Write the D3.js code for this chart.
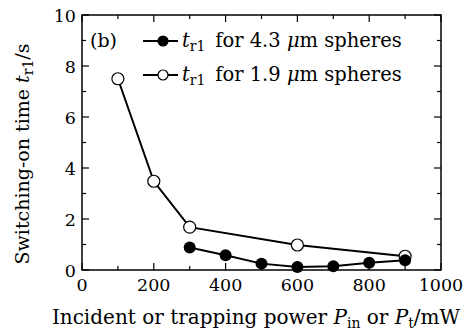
<!DOCTYPE html>
<html lang="en">
<head>
<meta charset="utf-8">
<title>Switching-on time</title>
<script src="https://cdn.jsdelivr.net/npm/d3@7"></script>
<style>
  body { margin: 0; background: #fff; }
</style>
</head>
<body>
<svg id="chart" width="470" height="331"></svg>
<script>
// power (mW) and switching-on time (s)
var bigPower = [300, 400, 500, 600, 700, 800, 900];
var bigTime = [0.88, 0.58, 0.25, 0.12, 0.15, 0.28, 0.38];
var smallPower = [100, 200, 300, 600, 900];
var smallTime = [7.5, 3.48, 1.68, 0.98, 0.54];
var xTicks = [0, 200, 400, 600, 800, 1000];
var yTicks = [0, 2, 4, 6, 8, 10];

var svg = d3.select("#chart");
var L = 82, R = 441, T = 15, B = 270;
var serif = "DejaVu Serif";

var x = d3.scaleLinear().domain([0, 1000]).range([L, R]);
var y = d3.scaleLinear().domain([0, 10]).range([B, T]);

// inward ticks on all sides
var xMinor = d3.range(0, 1001, 100);
var yMinor = d3.range(0, 11, 1);
var tickG = svg.append("g").attr("stroke", "#000").attr("stroke-width", 1.2);
xMinor.forEach(function (v) {
  var len = v % 200 === 0 ? 7 : 4;
  tickG.append("line").attr("x1", x(v)).attr("x2", x(v)).attr("y1", B).attr("y2", B - len);
  tickG.append("line").attr("x1", x(v)).attr("x2", x(v)).attr("y1", T).attr("y2", T + len);
});
yMinor.forEach(function (v) {
  var len = v % 2 === 0 ? 7 : 4;
  tickG.append("line").attr("y1", y(v)).attr("y2", y(v)).attr("x1", L).attr("x2", L + len);
  tickG.append("line").attr("y1", y(v)).attr("y2", y(v)).attr("x1", R).attr("x2", R - len);
});

svg.append("rect")
  .attr("x", L).attr("y", T).attr("width", R - L).attr("height", B - T)
  .attr("fill", "none").attr("stroke", "#000").attr("stroke-width", 1.5);

svg.selectAll("text.xt").data(xTicks).enter().append("text")
  .attr("class", "xt")
  .attr("x", function (d) { return x(d); })
  .attr("y", 291)
  .attr("text-anchor", "middle")
  .style("font-family", serif)
  .attr("font-size", 17.5)
  .text(function (d) { return d; });

svg.selectAll("text.yt").data(yTicks).enter().append("text")
  .attr("class", "yt")
  .attr("x", 76)
  .attr("y", function (d) { return y(d) + 7; })
  .attr("text-anchor", "end")
  .style("font-family", serif)
  .attr("font-size", 17.5)
  .text(function (d) { return d; });

var line = d3.line()
  .x(function (d) { return x(d[0]); })
  .y(function (d) { return y(d[1]); });

var bigData = d3.zip(bigPower, bigTime);
var smallData = d3.zip(smallPower, smallTime);

svg.append("path").datum(smallData).attr("d", line)
  .attr("fill", "none").attr("stroke", "#000").attr("stroke-width", 2);
svg.append("path").datum(bigData).attr("d", line)
  .attr("fill", "none").attr("stroke", "#000").attr("stroke-width", 2);

svg.selectAll("circle.small").data(smallData).enter().append("circle")
  .attr("class", "small")
  .attr("cx", function (d) { return x(d[0]); })
  .attr("cy", function (d) { return y(d[1]); })
  .attr("r", 6)
  .attr("fill", "#fff").attr("stroke", "#000").attr("stroke-width", 1.2);

svg.selectAll("circle.big").data(bigData).enter().append("circle")
  .attr("class", "big")
  .attr("cx", function (d) { return x(d[0]); })
  .attr("cy", function (d) { return y(d[1]); })
  .attr("r", 6)
  .attr("fill", "#000");

// panel label and legend
svg.append("text").attr("x", 90).attr("y", 47)
  .style("font-family", serif).attr("font-size", 19).text("(b)");

var legend = [
  { fill: "#000", size: "4.3", y: 41 },
  { fill: "#fff", size: "1.9", y: 75 }
];
legend.forEach(function (d) {
  svg.append("line").attr("x1", 143).attr("x2", 178).attr("y1", d.y).attr("y2", d.y)
    .attr("stroke", "#000").attr("stroke-width", 2);
  svg.append("circle").attr("cx", 163).attr("cy", d.y).attr("r", 5)
    .attr("fill", d.fill).attr("stroke", "#000").attr("stroke-width", 1.2);
  var t = svg.append("text").attr("x", 182).attr("y", d.y + 6)
    .style("font-family", serif).attr("font-size", 19.5);
  t.append("tspan").attr("font-style", "italic").text("t");
  t.append("tspan").attr("font-size", 14).attr("dy", 4).text("r1");
  t.append("tspan").attr("dy", -4).text("\u2002for " + d.size + " ");
  t.append("tspan").attr("font-style", "italic").text("\u03bc");
  t.append("tspan").text("m spheres");
});

// axis titles
var xl = svg.append("text").attr("x", 256).attr("y", 324)
  .attr("text-anchor", "middle").style("font-family", serif).attr("font-size", 20);
xl.append("tspan").text("Incident or trapping power ");
xl.append("tspan").attr("font-style", "italic").text("P");
xl.append("tspan").attr("font-size", 14).attr("dy", 4).text("in");
xl.append("tspan").attr("dy", -4).text(" or ");
xl.append("tspan").attr("font-style", "italic").text("P");
xl.append("tspan").attr("font-size", 14).attr("dy", 4).text("t");
xl.append("tspan").attr("dy", -4).text("/mW");

var yl = svg.append("text")
  .attr("transform", "translate(29,154) rotate(-90)")
  .attr("text-anchor", "middle").style("font-family", serif).attr("font-size", 19);
yl.append("tspan").text("Switching-on time ");
yl.append("tspan").attr("font-style", "italic").text("t");
yl.append("tspan").attr("font-size", 14).attr("dy", 4).text("r1");
yl.append("tspan").attr("dy", -4).text("/s");
</script>
</body>
</html>
